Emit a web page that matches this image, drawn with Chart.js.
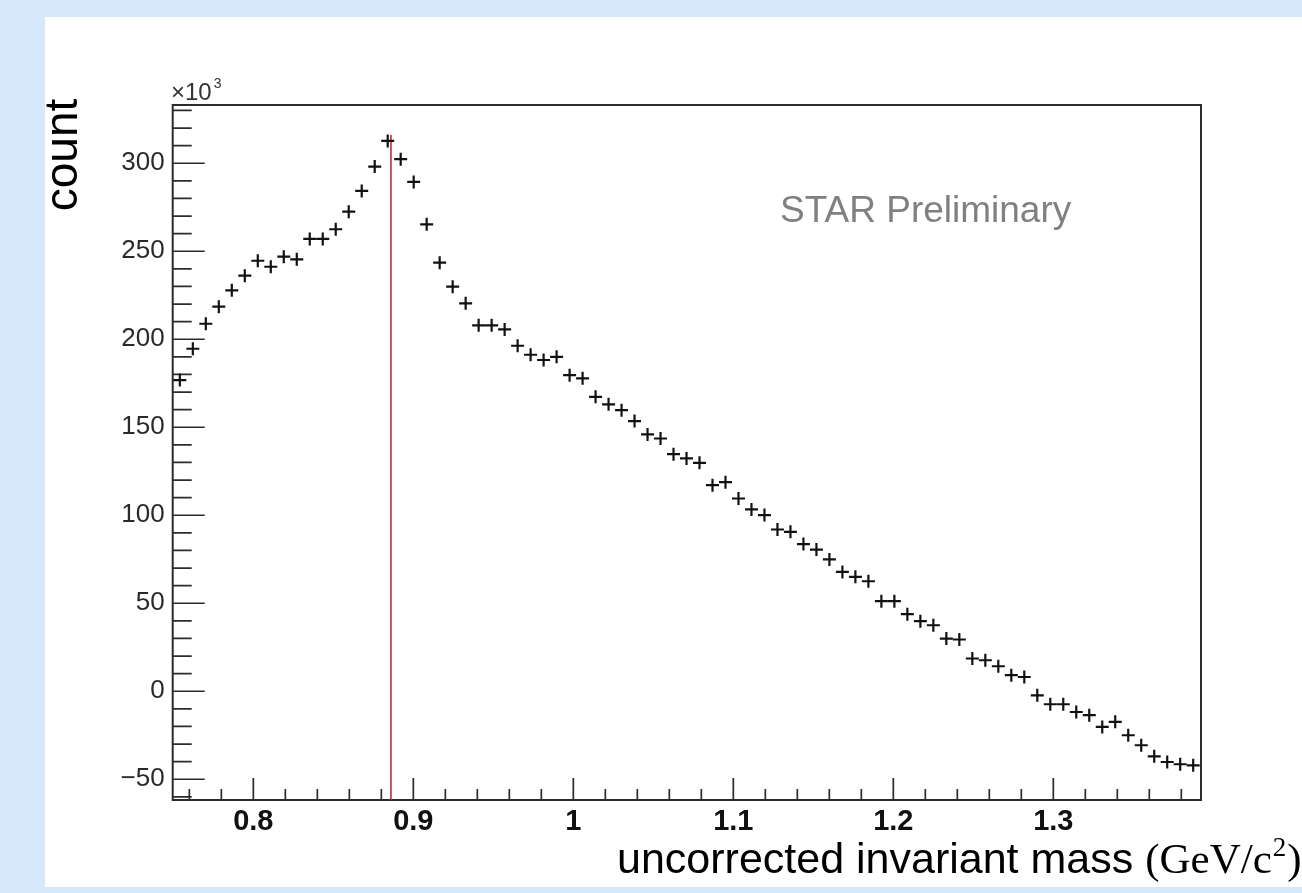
<!DOCTYPE html>
<html>
<head>
<meta charset="utf-8">
<title>uncorrected invariant mass</title>
<script src="https://cdn.jsdelivr.net/npm/chart.js@4.4.1/dist/chart.umd.min.js"></script>
<style>
  html, body { margin:0; padding:0; background:#d5e8fc; overflow:hidden; }
  #panel { position:absolute; left:45px; top:17px; width:1257px; height:870px; background:#fff; }
</style>
</head>
<body>
<div id="panel"><canvas id="massChart"></canvas></div>
<script>
// histogram: counts (x10^3) per mass bin
const BIN_LOW = 0.75;
const BIN_WIDTH = 0.00812;
const counts = [
  176.8, 194.6, 208.8, 218.5, 227.8, 236.1, 244.6, 241.2, 246.9, 245.4,
  257.0, 257.0, 262.5, 272.5, 284.3, 298.1, 312.7, 302.3, 289.4, 265.3,
  243.5, 229.9, 220.4, 207.9, 207.9, 205.6, 196.3, 191.2, 188.2, 190.0,
  179.6, 177.8, 167.3, 163.0, 159.7, 153.5, 145.9, 143.6, 134.7, 132.3,
  129.8, 117.1, 118.8, 109.5, 103.3, 100.1, 91.9, 90.6, 83.6, 80.5,
  74.9, 67.8, 65.0, 62.5, 51.2, 51.2, 43.8, 39.8, 37.5, 29.9,
  29.4, 18.6, 17.6, 14.2, 9.1, 8.1, -2.3, -7.4, -7.4, -11.8,
  -13.6, -20.3, -17.4, -25.0, -30.7, -37.0, -40.2, -41.5, -42.1
];
const massBins = counts.map((_, i) => BIN_LOW + (i + 0.5) * BIN_WIDTH);

// red marker line
const MARK_X = 0.886;
const MARK_TOP = 316;

// axes
const X_MIN = 0.7496, X_MAX = 1.3923;
const Y_MIN = -61.8, Y_MAX = 333.1;
const xTickValues = [0.8, 0.9, 1.0, 1.1, 1.2, 1.3];
const xTickLabels = ['0.8', '0.9', '1', '1.1', '1.2', '1.3'];
const yTickValues = [-50, 0, 50, 100, 150, 200, 250, 300];
const yTickLabels = ['\u221250', '0', '50', '100', '150', '200', '250', '300'];

const SANS = '"Liberation Sans", Arial, sans-serif';
const SERIF = '"Liberation Serif", "DejaVu Serif", serif';

// frame + inward ROOT style ticks
const rootFrame = {
  id: 'rootFrame',
  beforeDatasetsDraw(chart) {
    const { ctx, chartArea: a, scales: { x, y } } = chart;
    ctx.save();
    ctx.strokeStyle = '#2b2b2b';
    ctx.lineWidth = 2;
    ctx.strokeRect(a.left, a.top, a.right - a.left, a.bottom - a.top);
    ctx.lineWidth = 1.7;
    ctx.beginPath();
    for (let k = -6; k <= 33; k++) {
      const p = y.getPixelForValue(k * 10);
      const len = k % 5 === 0 ? 32 : 19;
      ctx.moveTo(a.left, p); ctx.lineTo(a.left + len, p);
    }
    for (let k = 38; k <= 69; k++) {
      const p = x.getPixelForValue(k / 50);
      const len = k % 5 === 0 ? 22 : 11;
      ctx.moveTo(p, a.bottom); ctx.lineTo(p, a.bottom - len);
    }
    ctx.stroke();
    ctx.restore();
  },
  afterDraw(chart) {
    const { ctx } = chart;
    ctx.save();
    ctx.fillStyle = '#000';
    ctx.textBaseline = 'alphabetic';

    // y title
    ctx.save();
    ctx.translate(32, 138);
    ctx.rotate(-Math.PI / 2);
    ctx.textAlign = 'center';
    ctx.font = '46px ' + SANS;
    ctx.fillText('count', 0, 0);
    ctx.restore();

    // exponent
    ctx.fillStyle = '#333';
    ctx.font = '24px ' + SANS;
    ctx.fillText('\u00d710', 126, 83);
    const w10 = ctx.measureText('\u00d710').width;
    ctx.font = '14px ' + SANS;
    ctx.fillText('3', 126 + w10 + 2, 71);

    // watermark
    ctx.fillStyle = '#808080';
    ctx.font = '37px ' + SANS;
    ctx.fillText('STAR Preliminary', 735, 205);

    // x title on its own white box (it hides the bottom of some labels)
    ctx.fillStyle = '#fff';
    ctx.fillRect(560, 813, 697, 57);
    ctx.fillStyle = '#000';
    let tx = 572;
    const base = 856;
    ctx.font = '43px ' + SANS;
    const part1 = 'uncorrected invariant mass';
    ctx.fillText(part1, tx, base);
    tx += ctx.measureText(part1).width + 12;
    ctx.font = '43px ' + SERIF;
    ctx.fillText('(GeV/c', tx, base);
    tx += ctx.measureText('(GeV/c').width;
    ctx.font = '27px ' + SERIF;
    ctx.fillText('2', tx + 1, base - 17);
    tx += ctx.measureText('2').width + 2;
    ctx.font = '43px ' + SERIF;
    ctx.fillText(')', tx, base);
    ctx.restore();
  }
};

document.addEventListener('DOMContentLoaded', function() {
  const points = counts.map((c, i) => ({ x: massBins[i], y: c }));
  new Chart(document.getElementById('massChart'), {
    type: 'scatter',
    data: {
      datasets: [
        { data: points, pointStyle: 'cross', pointRadius: 6.5, pointHoverRadius: 6.5,
          pointBorderWidth: 2.2, borderColor: '#111', backgroundColor: '#111', order: 0 },
        { type: 'line', data: [{ x: MARK_X, y: Y_MIN }, { x: MARK_X, y: MARK_TOP }],
          borderColor: '#c22a35', borderWidth: 1.6, pointRadius: 0, showLine: true, order: 1 }
      ]
    },
    options: {
      animation: false, responsive: true, maintainAspectRatio: false,
      layout: { padding: { top: 88, right: 101, left: 0, bottom: 0 } },
      plugins: { legend: { display: false }, tooltip: { enabled: false } },
      scales: {
        x: {
          type: 'linear', min: X_MIN, max: X_MAX,
          grid: { display: false, drawTicks: false }, border: { display: false },
          afterBuildTicks: s => { s.ticks = xTickValues.map(v => ({ value: v })); },
          afterFit: s => { s.height = 87; },
          ticks: { padding: 5, autoSkip: false, maxRotation: 0, color: '#111',
                   font: { family: SANS, size: 29, weight: 'bold' },
                   callback: v => xTickLabels[xTickValues.indexOf(v)] }
        },
        y: {
          type: 'linear', min: Y_MIN, max: Y_MAX,
          grid: { display: false, drawTicks: false }, border: { display: false },
          afterBuildTicks: s => { s.ticks = yTickValues.map(v => ({ value: v })); },
          afterFit: s => { s.width = 127.7; },
          ticks: { padding: 8, autoSkip: false, color: '#2a2a2a',
                   font: { family: SANS, size: 26 },
                   callback: v => yTickLabels[yTickValues.indexOf(v)] }
        }
      }
    },
    plugins: [rootFrame]
  });
});
</script>
</body>
</html>
